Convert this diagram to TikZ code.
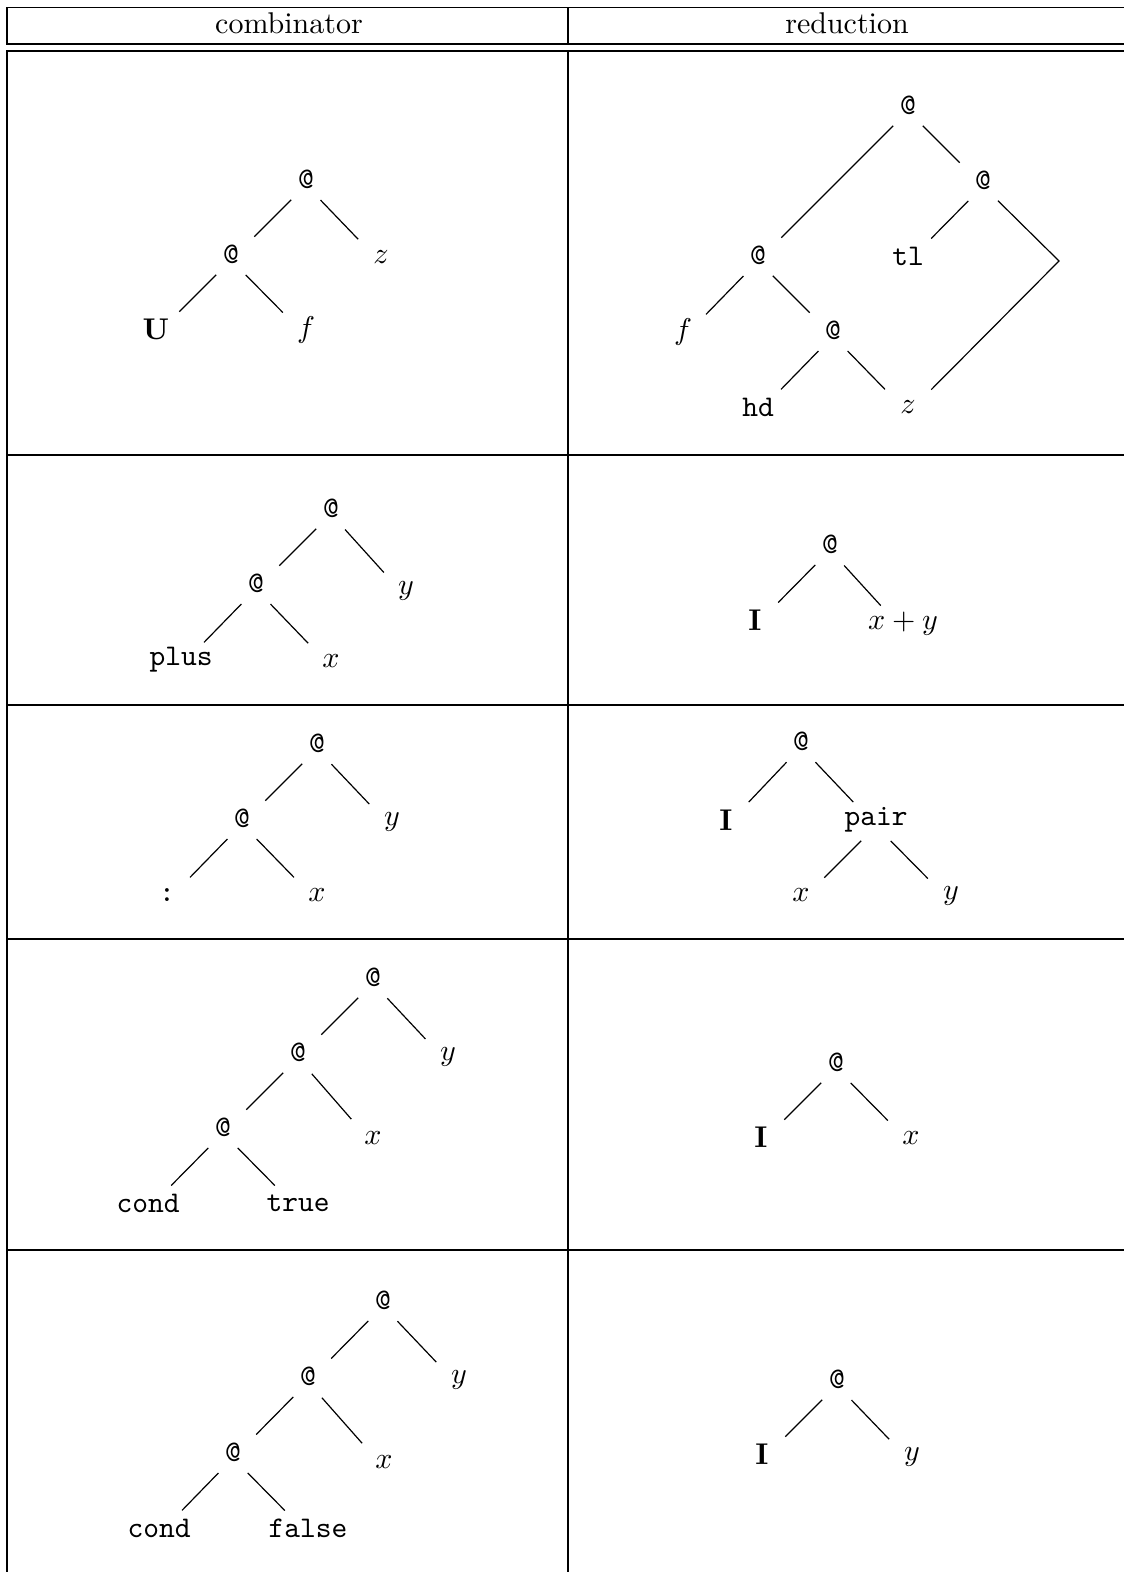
\documentclass[tikz,border=0pt]{standalone}
\usepackage{tikz}

\begin{document}
\begin{tikzpicture}[x=0.33333pt, y=-0.33333pt,
  rule/.style={line width=0.65pt},
  head/.style={anchor=base},
  app/.style={font=\ttfamily},
  tt/.style={font=\ttfamily},
  comb/.style={font=\bfseries},
  branch/.style={line width=0.4pt, shorten <=7pt, shorten >=11pt,
                 transform canvas={yshift=-2pt}}
]
\useasboundingbox (0,0) rectangle (1124,1572);

% table
\draw[rule] (6,7.5)  -- (1124,7.5);
\draw[rule] (6,44)   -- (1124,44);
\draw[rule] (6,51)   -- (1124,51);
\draw[rule] (7,455)  -- (1124,455);
\draw[rule] (7,705)  -- (1124,705);
\draw[rule] (7,939)  -- (1124,939);
\draw[rule] (7,1250) -- (1124,1250);
\draw[rule] (7,7.5)   -- (7,44);
\draw[rule] (7,51)    -- (7,1572);
\draw[rule] (568,7.5) -- (568,44);
\draw[rule] (568,51)  -- (568,1572);

\node[head] (hcomb) at (289,34) {combinator};
\node[head] (hred)  at (847,34) {reduction};

% U
\node[app]  (u1) at (306,179) {@};
\node[app]  (u2) at (231,254) {@};
\node[comb] (uU) at (156,329) {U};
\node       (uf) at (306,330) {$f$};
\node       (uz) at (381,257) {$z$};

\draw[branch] (u1.center) -- (u2.center);
\draw[branch] (u1.center) -- (uz.center);
\draw[branch] (u2.center) -- (uU.center);
\draw[branch] (u2.center) -- (uf.center);

\node[app] (h1)  at (908,105) {@};
\node[app] (h2)  at (983,180) {@};
\node[app] (h3)  at (758,255) {@};
\node[tt]  (htl) at (908,256) {tl};
\coordinate (hc) at (1059,255);
\node      (hf)  at (683,332) {$f$};
\node[app] (h4)  at (833,330) {@};
\node[tt]  (hhd) at (758,407) {hd};
\node      (hz)  at (908,407) {$z$};

\draw[branch] (h1.center) -- (h3.center);
\draw[branch] (h1.center) -- (h2.center);
\draw[branch] (h2.center) -- (htl.center);
\draw[branch] (h2.center) -- (hc) -- (hz.center);
\draw[branch] (h3.center) -- (hf.center);
\draw[branch] (h3.center) -- (h4.center);
\draw[branch] (h4.center) -- (hhd.center);
\draw[branch] (h4.center) -- (hz.center);

% plus
\node[app] (p1)    at (331,508) {@};
\node[app] (p2)    at (256,583) {@};
\node[tt]  (pplus) at (181,660) {plus};
\node      (px)    at (331,661) {$x$};
\node      (py)    at (406,591) {$y$};

\draw[branch] (p1.center) -- (p2.center);
\draw[branch] (p1.center) -- (py.center);
\draw[branch] (p2.center) -- (pplus.center);
\draw[branch] (p2.center) -- (px.center);

\node[app]  (q1)  at (830,544) {@};
\node[comb] (qI)  at (755,620) {I};
\node       (qxy) at (903,624) {$x+y$};

\draw[branch] (q1.center) -- (qI.center);
\draw[branch] (q1.center) -- (qxy.center);

% pair
\node[app] (k1)   at (317,743) {@};
\node[app] (k2)   at (242,818) {@};
\node[tt]  (kcol) at (167,895) {:};
\node      (kx)   at (317,895) {$x$};
\node      (ky)   at (392,822) {$y$};

\draw[branch] (k1.center) -- (k2.center);
\draw[branch] (k1.center) -- (ky.center);
\draw[branch] (k2.center) -- (kcol.center);
\draw[branch] (k2.center) -- (kx.center);

\node[app]  (m1)    at (801,741) {@};
\node[comb] (mI)    at (726,820) {I};
\node[tt]   (mpair) at (876,820) {pair};
\node       (mx)    at (801,895) {$x$};
\node       (my)    at (951,896) {$y$};

\draw[branch] (m1.center) -- (mI.center);
\draw[branch] (m1.center) -- (mpair.center);
\draw[branch] (mpair.center) -- (mx.center);
\draw[branch] (mpair.center) -- (my.center);

% cond true
\node[app] (t1)    at (373,977)  {@};
\node[app] (t2)    at (298,1052) {@};
\node[app] (t3)    at (223,1127) {@};
\node[tt]  (tcond) at (148,1203) {cond};
\node[tt]  (ttrue) at (298,1203) {true};
\node      (tx)    at (373,1138) {$x$};
\node      (ty)    at (448,1057) {$y$};

\draw[branch] (t1.center) -- (t2.center);
\draw[branch] (t1.center) -- (ty.center);
\draw[branch] (t2.center) -- (t3.center);
\draw[branch] (t2.center) -- (tx.center);
\draw[branch] (t3.center) -- (tcond.center);
\draw[branch] (t3.center) -- (ttrue.center);

\node[app]  (s1) at (836,1062) {@};
\node[comb] (sI) at (761,1137) {I};
\node       (sx) at (911,1138) {$x$};

\draw[branch] (s1.center) -- (sI.center);
\draw[branch] (s1.center) -- (sx.center);

% cond false
\node[app] (f1)     at (383,1300) {@};
\node[app] (f2)     at (308,1376) {@};
\node[app] (f3)     at (233,1452) {@};
\node[tt]  (fcond)  at (159,1528) {cond};
\node[tt]  (ffalse) at (308,1528) {false};
\node      (fx)     at (384,1462) {$x$};
\node      (fy)     at (459,1380) {$y$};

\draw[branch] (f1.center) -- (f2.center);
\draw[branch] (f1.center) -- (fy.center);
\draw[branch] (f2.center) -- (f3.center);
\draw[branch] (f2.center) -- (fx.center);
\draw[branch] (f3.center) -- (fcond.center);
\draw[branch] (f3.center) -- (ffalse.center);

\node[app]  (g1) at (837,1379) {@};
\node[comb] (gI) at (762,1454) {I};
\node       (gy) at (912,1457) {$y$};

\draw[branch] (g1.center) -- (gI.center);
\draw[branch] (g1.center) -- (gy.center);

\end{tikzpicture}
\end{document}
